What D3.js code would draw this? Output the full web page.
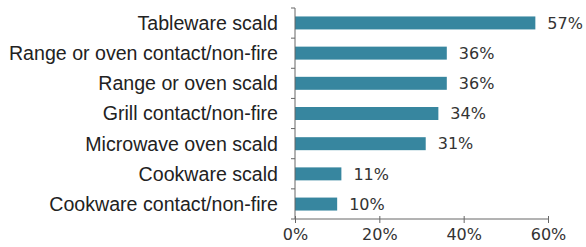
<!DOCTYPE html>
<html>
<head>
<meta charset="utf-8">
<script src="https://cdn.jsdelivr.net/npm/d3@7"></script>
<style>
  body { margin: 0; background: #fff; }
  svg { display: block; }
</style>
</head>
<body>
<div id="chart"></div>
<script>
const categories = [
  "Tableware scald",
  "Range or oven contact/non-fire",
  "Range or oven scald",
  "Grill contact/non-fire",
  "Microwave oven scald",
  "Cookware scald",
  "Cookware contact/non-fire"
];
const values = [57, 36, 36, 34, 31, 11, 10];
const xTicks = [0, 20, 40, 60];

const width = 586, height = 247;
const margin = { top: 8, right: 38, bottom: 28, left: 295 };

const svg = d3.select("#chart")
  .append("svg")
  .attr("width", width)
  .attr("height", height);

const x = d3.scaleLinear()
  .domain([0, 60])
  .range([margin.left, width - margin.right]);

const y = d3.scaleBand()
  .domain(categories)
  .range([margin.top, height - margin.bottom])
  .paddingInner(0.57)
  .paddingOuter(0.28);

const axisColor = "#666";

// bars
svg.selectAll(".bar")
  .data(values)
  .enter()
  .append("rect")
  .attr("class", "bar")
  .attr("x", x(0))
  .attr("y", (d, i) => y(categories[i]))
  .attr("width", d => x(d) - x(0))
  .attr("height", y.bandwidth())
  .attr("fill", "#37869f");

// value labels
svg.selectAll(".val")
  .data(values)
  .enter()
  .append("text")
  .attr("class", "val")
  .attr("x", d => x(d) + 12)
  .attr("y", (d, i) => y(categories[i]) + y.bandwidth() / 2)
  .attr("dy", "0.36em")
  .style("font-family", "'DejaVu Sans', Verdana, sans-serif")
  .style("font-size", "16px")
  .style("fill", "#333")
  .text(d => d + "%");

// y axis
const yAxis = svg.append("g")
  .attr("transform", "translate(" + x(0) + ",0)");
yAxis.append("line")
  .attr("y1", margin.top).attr("y2", height - margin.bottom)
  .attr("stroke", axisColor);
const step = (height - margin.bottom - margin.top) / categories.length;
yAxis.selectAll(".ytick")
  .data(d3.range(categories.length + 1))
  .enter()
  .append("line")
  .attr("x1", -4).attr("x2", 0)
  .attr("y1", d => margin.top + d * step)
  .attr("y2", d => margin.top + d * step)
  .attr("stroke", axisColor);

// category labels
svg.selectAll(".cat")
  .data(categories)
  .enter()
  .append("text")
  .attr("class", "cat")
  .attr("x", x(0) - 17)
  .attr("y", d => y(d) + y.bandwidth() / 2)
  .attr("dy", "0.35em")
  .attr("text-anchor", "end")
  .style("font-family", "'Liberation Sans', Arial, sans-serif")
  .style("font-size", "19.6px")
  .style("fill", "#222")
  .text(d => d);

// x axis
const xAxis = svg.append("g")
  .attr("transform", "translate(0," + (height - margin.bottom) + ")")
  .call(d3.axisBottom(x).tickValues(xTicks).tickSize(4).tickFormat(d => d + "%"));
xAxis.select(".domain").attr("stroke", axisColor).attr("d", "M" + x(0) + ",0H" + x(60));
xAxis.selectAll(".tick line").attr("stroke", axisColor).attr("y1", -3);
xAxis.selectAll("text")
  .attr("y", 10)
  .style("font-family", "'DejaVu Sans', Verdana, sans-serif")
  .style("font-size", "16px")
  .style("fill", "#333");
</script>
</body>
</html>
